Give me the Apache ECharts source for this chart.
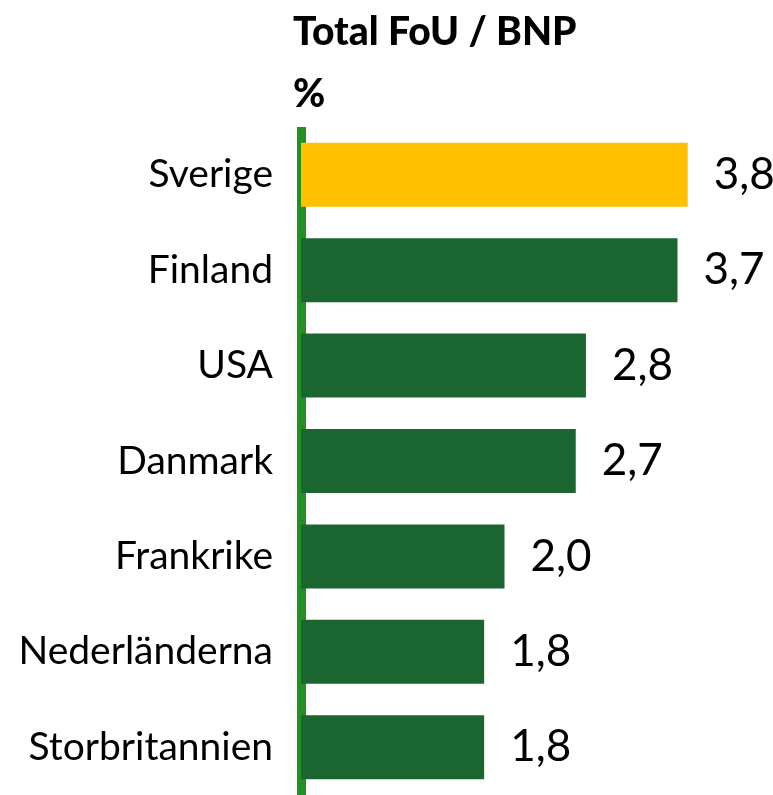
<!DOCTYPE html>
<html>
<head>
<meta charset="utf-8">
<script src="https://cdn.jsdelivr.net/npm/echarts@6/dist/echarts.min.js"></script>
<style>
  html, body { margin: 0; padding: 0; background: #fff; }
  #chart { width: 773px; height: 795px; }
</style>
</head>
<body>
<div id="chart"></div>
<script>
const countries = ['Sverige', 'Finland', 'USA', 'Danmark', 'Frankrike', 'Nederländerna', 'Storbritannien']
const values = [3.8, 3.7, 2.8, 2.7, 2.0, 1.8, 1.8]
const highlight = 'Sverige'

const fontFamily = 'Lato, "Open Sans", sans-serif'

const chart = echarts.init(document.getElementById('chart'))
chart.setOption({
  animation: false,
  title: [{
    text: 'Total FoU / BNP',
    left: 288,
    top: 8,
    textStyle: { fontFamily, fontSize: 39, fontWeight: 900, color: '#000' }
  }, {
    text: '%',
    left: 288,
    top: 70,
    textStyle: { fontFamily, fontSize: 39, fontWeight: 900, color: '#000' }
  }],
  grid: {
    left: 301,
    right: 9,
    top: 127,
    bottom: 0
  },
  xAxis: {
    type: 'value',
    min: 0,
    max: 4.55,
    show: false
  },
  yAxis: {
    type: 'category',
    data: countries,
    inverse: true,
    offset: 5,
    axisLine: { show: true, lineStyle: { color: '#229122', width: 9, cap: 'butt' } },
    axisTick: { show: false },
    axisLabel: {
      margin: 23,
      fontFamily,
      fontSize: 39,
      color: '#000'
    }
  },
  series: [{
    type: 'bar',
    data: values.map((v, i) => ({
      value: v,
      itemStyle: { color: countries[i] === highlight ? '#FFC000' : '#1B6630' }
    })),
    barWidth: 64,
    label: {
      show: true,
      position: 'right',
      distance: 26,
      fontFamily,
      fontSize: 44,
      color: '#000',
      formatter: p => p.value.toFixed(1).replace('.', ',')
    }
  }]
})
</script>
</body>
</html>
